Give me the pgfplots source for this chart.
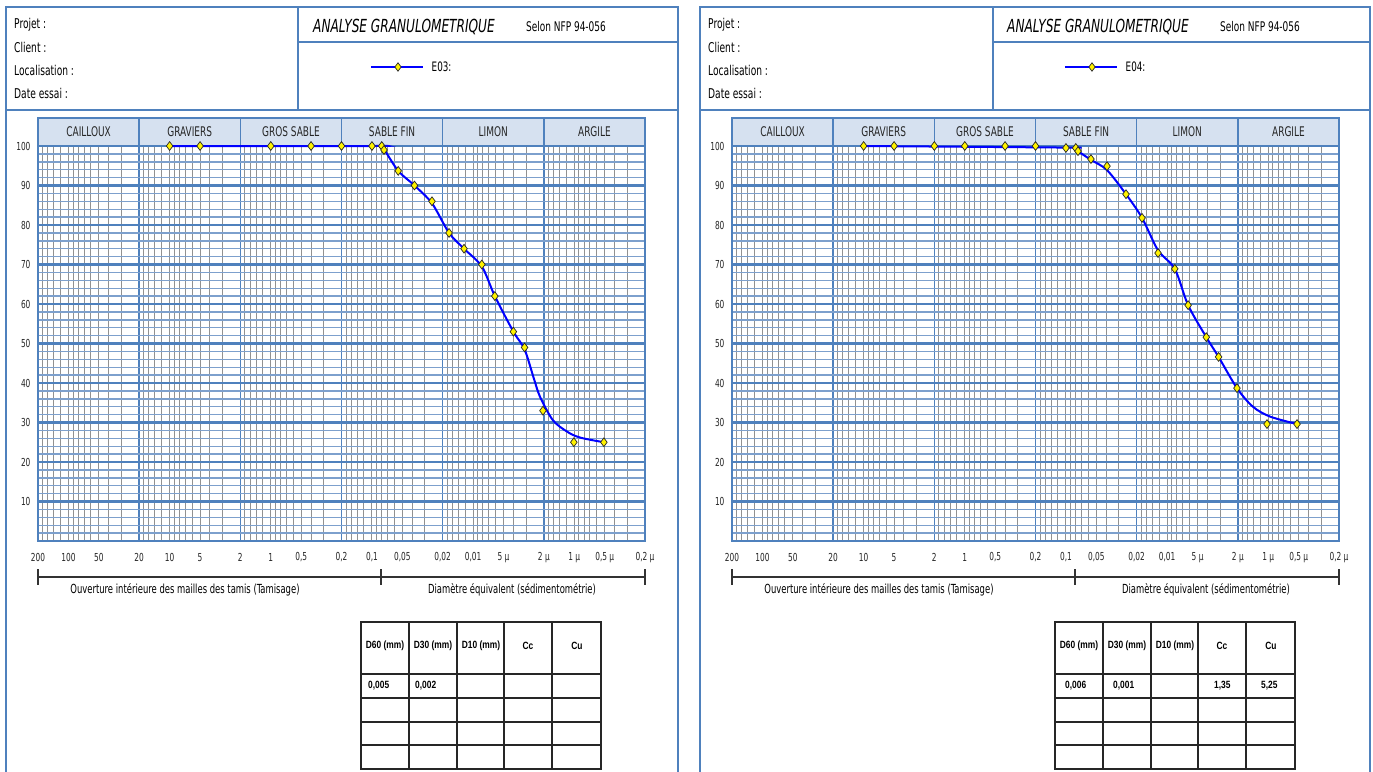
\documentclass[border=0pt]{standalone}
\usepackage{fontspec}
\setmainfont{DejaVu Sans Condensed}[FakeStretch=0.75]
\newfontfamily\tabfont{Liberation Sans}[FakeStretch=0.8]
\usepackage{pgfplots}
\usepackage{pgfplotstable}
\pgfplotsset{compat=1.18}
\definecolor{frameblue}{RGB}{79,129,189}
\definecolor{minorblue}{RGB}{125,160,205}
\definecolor{headfill}{RGB}{214,225,240}
\definecolor{gridgray}{RGB}{145,145,145}
\definecolor{curveblue}{RGB}{0,0,255}

\pgfplotstableread{
x y
10 100
5 100
1 100
0.4 100
0.2 100
0.1 100
0.08 100
0.076 99
0.055 93.7
0.038 90
0.0255 86
0.0173 78
0.0123 74
0.0082 70
0.0061 62
0.0040 53
0.0031 49
0.00204 33
0.00101 25
0.00051 25
}\ethreemarks

\pgfplotstableread{
x y
10 100
0.1 100
0.08 100
0.075 99
0.055 93.7
0.038 90
0.0255 85.5
0.0173 78
0.0123 74
0.0082 69.5
0.0061 62
0.0040 53
0.0031 48.5
0.0025 41
0.00218 36.5
0.00163 30.6
0.00118 27.7
0.00088 26.2
0.00051 25
}\ethreecurve

\pgfplotstableread{
x y
10 100
5 100
2 100
1 100
0.4 100
0.2 100
0.1 99.5
0.08 99.5
0.076 98.7
0.0566 96.7
0.0393 94.9
0.0255 87.8
0.0177 81.8
0.0123 72.9
0.0084 68.9
0.0062 59.7
0.0041 51.6
0.0031 46.6
0.00204 38.7
0.00103 29.6
0.00052 29.6
}\efourmarks

\pgfplotstableread{
x y
10 100
0.1 99.6
0.08 99.5
0.076 98.7
0.0566 96.5
0.0393 93.9
0.0255 87.8
0.0177 81.8
0.0123 73.6
0.0084 68.9
0.0062 59.7
0.0041 51.6
0.0031 46.6
0.00204 38.7
0.00142 34
0.00096 31.5
0.00052 29.6
}\efourcurve

\newcommand\panelcommon{%
  \node[anchor=west, inner sep=0pt, font=\fontsize{13.5}{15}\selectfont] at (14,25) {Projet :};
  \node[anchor=west, inner sep=0pt, font=\fontsize{13.5}{15}\selectfont] at (14,47) {Client :};
  \node[anchor=west, inner sep=0pt, font=\fontsize{13.5}{15}\selectfont] at (14,70) {Localisation :};
  \node[anchor=west, inner sep=0pt, font=\fontsize{13.5}{15}\selectfont] at (14,93) {Date essai :};
  \node[anchor=west, inner sep=0pt, font=\fontsize{18}{20}\selectfont\itshape] at (313,27) {ANALYSE GRANULOMETRIQUE};
  \node[anchor=west, inner sep=0pt, font=\fontsize{13.3}{15}\selectfont] at (526,27) {Selon NFP 94-056};
  \foreach \i/\t in {0/CAILLOUX,1/GRAVIERS,2/GROS SABLE,3/SABLE FIN,4/LIMON,5/ARGILE}{
    \draw[fill=headfill, draw=frameblue, line width=1.5pt] ({38+101.17*\i},118) rectangle ({38+101.17*(\i+1)},146);
    \node[font=\fontsize{13.3}{15}\selectfont, text=black!85] at ({38+101.17*(\i+0.5)},131.5) {\t};
  }
  \draw[black!80, line width=1.2pt] (38,577) -- (645,577);
  \draw[black!80, line width=1.2pt] (38,569) -- (38,585) (381,569) -- (381,585) (645,569) -- (645,585);
  \node[font=\fontsize{12.5}{14}\selectfont] at (185,590) {Ouverture intérieure des mailles des tamis (Tamisage)};
  \node[font=\fontsize{12.5}{14}\selectfont] at (512,590) {Diamètre équivalent (sédimentométrie)};
  \draw[black!85, line width=1.2pt] (361,622) rectangle (601,769);
  \foreach \xx in {409,457,504,552} {\draw[black!85, line width=1.2pt] (\xx,622) -- (\xx,769);}
  \foreach \yy in {674,698,722,745} {\draw[black!85, line width=1.2pt] (361,\yy) -- (601,\yy);}
  \node[font=\tabfont\bfseries\fontsize{10.5}{12}\selectfont] at (385,646) {D60 (mm)};
  \node[font=\tabfont\bfseries\fontsize{10.5}{12}\selectfont] at (433,646) {D30 (mm)};
  \node[font=\tabfont\bfseries\fontsize{10.5}{12}\selectfont] at (481,646) {D10 (mm)};
  \node[font=\tabfont\bfseries\fontsize{10.5}{12}\selectfont] at (528,646) {Cc};
  \node[font=\tabfont\bfseries\fontsize{10.5}{12}\selectfont] at (577,646) {Cu};
}

\begin{document}
\begin{tikzpicture}
\path[use as bounding box] (0pt,0pt) rectangle (1373pt,-771pt);
\fill[white] (0pt,0pt) rectangle (1373pt,-771pt);
\begin{scope}[x=1pt, y=-1pt]
  \draw[frameblue, line width=2pt] (6,800) -- (6,7) -- (678,7) -- (678,800);
  \draw[frameblue, line width=2pt] (298,7) -- (298,110) (298,42) -- (678,42) (6,110) -- (678,110);
  \draw[frameblue, line width=2pt] (700,800) -- (700,7) -- (1370,7) -- (1370,800);
  \draw[frameblue, line width=2pt] (993,7) -- (993,110) (993,42) -- (1370,42) (700,110) -- (1370,110);
  \panelcommon
  \begin{scope}[xshift=694pt]
    \panelcommon
  \end{scope}
  \node[anchor=west, inner sep=0pt, font=\tabfont\bfseries\fontsize{10.5}{12}\selectfont] at (368,686) {0,005};
  \node[anchor=west, inner sep=0pt, font=\tabfont\bfseries\fontsize{10.5}{12}\selectfont] at (415,686) {0,002};
  \node[anchor=west, inner sep=0pt, font=\tabfont\bfseries\fontsize{10.5}{12}\selectfont] at (1065,686) {0,006};
  \node[anchor=west, inner sep=0pt, font=\tabfont\bfseries\fontsize{10.5}{12}\selectfont] at (1113,686) {0,001};
  \node[anchor=west, inner sep=0pt, font=\tabfont\bfseries\fontsize{10.5}{12}\selectfont] at (1214,686) {1,35};
  \node[anchor=west, inner sep=0pt, font=\tabfont\bfseries\fontsize{10.5}{12}\selectfont] at (1261,686) {5,25};
\end{scope}

\begin{axis}[at={(38pt,-541pt)}, anchor=south west,
    scale only axis, width=607pt, height=395pt,
    xmode=log, x dir=reverse, xmin=0.0002, xmax=200,
    ymin=0, ymax=100,
    xtick={200,20,2,0.2,0.02,0.002,0.0002},
    xticklabels={200,20,2,{0,2},{0,02},{2 µ},{0,2 µ}},
    extra x ticks={100,50,10,5,1,0.5,0.1,0.05,0.01,0.005,0.001,0.0005},
    extra x tick labels={100,50,10,5,1,{0,5},{0,1},{0,05},{0,01},{5 µ},{1 µ},{0,5 µ}},
    extra x tick style={grid=none},
    minor xtick={0.0003,0.0004,0.0005,0.0006,0.0007,0.0008,0.0009,0.001,0.0012,0.0014,0.0016,0.0018,0.003,0.004,0.005,0.006,0.007,0.008,0.009,0.01,0.012,0.014,0.016,0.018,0.03,0.04,0.05,0.06,0.07,0.08,0.09,0.1,0.12,0.14,0.16,0.18,0.3,0.4,0.5,0.6,0.7,0.8,0.9,1,1.2,1.4,1.6,1.8,3,4,5,6,7,8,9,10,12,14,16,18,30,40,50,60,70,80,90,100,120,140,160,180},
    ytick={10,20,30,40,50,60,70,80,90,100},
    yticklabels={10,20,30,40,50,60,70,80,90,100},
    minor ytick={2,4,6,8,12,14,16,18,22,24,26,28,32,34,36,38,42,44,46,48,52,54,56,58,62,64,66,68,72,74,76,78,82,84,86,88,92,94,96,98},
    grid=both,
    minor x grid style={gridgray, line width=1pt},
    major x grid style={frameblue, line width=1.6pt},
    minor y grid style={minorblue, line width=1.4pt},
    major y grid style={frameblue, line width=2.4pt},
    major tick length=0pt, minor tick length=0pt,
    axis line style={frameblue, line width=1.6pt},
    tick label style={font=\fontsize{11}{12}\selectfont, text=black!85},
    xticklabel style={anchor=center, yshift=-16.5pt},
    yticklabel style={anchor=east, xshift=-4pt},
    clip=false,
    legend style={draw=none, fill=none, inner sep=0pt, font=\fontsize{13}{15}\selectfont,
                  at={(0.547,1.2)}, anchor=west},
    legend image code/.code={\draw[mark repeat=2,mark phase=2,#1] plot coordinates {(0pt,0pt) (27pt,0pt) (52pt,0pt)};}]
  \addplot[curveblue, line width=2pt, smooth, no marks, forget plot] table {\ethreecurve};
  \addplot[only marks, mark=diamond*, mark size=4.4pt, mark options={fill=yellow, draw=black!85, line width=0.7pt}, forget plot] table {\ethreemarks};
  \addlegendimage{curveblue, line width=1.5pt, mark=diamond*, mark size=4.2pt, mark options={fill=yellow, draw=black!85, line width=0.7pt}}
  \addlegendentry{\hspace{6pt}E03:}
\end{axis}

\begin{axis}[at={(732pt,-541pt)}, anchor=south west,
    scale only axis, width=607pt, height=395pt,
    xmode=log, x dir=reverse, xmin=0.0002, xmax=200,
    ymin=0, ymax=100,
    xtick={200,20,2,0.2,0.02,0.002,0.0002},
    xticklabels={200,20,2,{0,2},{0,02},{2 µ},{0,2 µ}},
    extra x ticks={100,50,10,5,1,0.5,0.1,0.05,0.01,0.005,0.001,0.0005},
    extra x tick labels={100,50,10,5,1,{0,5},{0,1},{0,05},{0,01},{5 µ},{1 µ},{0,5 µ}},
    extra x tick style={grid=none},
    minor xtick={0.0003,0.0004,0.0005,0.0006,0.0007,0.0008,0.0009,0.001,0.0012,0.0014,0.0016,0.0018,0.003,0.004,0.005,0.006,0.007,0.008,0.009,0.01,0.012,0.014,0.016,0.018,0.03,0.04,0.05,0.06,0.07,0.08,0.09,0.1,0.12,0.14,0.16,0.18,0.3,0.4,0.5,0.6,0.7,0.8,0.9,1,1.2,1.4,1.6,1.8,3,4,5,6,7,8,9,10,12,14,16,18,30,40,50,60,70,80,90,100,120,140,160,180},
    ytick={10,20,30,40,50,60,70,80,90,100},
    yticklabels={10,20,30,40,50,60,70,80,90,100},
    minor ytick={2,4,6,8,12,14,16,18,22,24,26,28,32,34,36,38,42,44,46,48,52,54,56,58,62,64,66,68,72,74,76,78,82,84,86,88,92,94,96,98},
    grid=both,
    minor x grid style={gridgray, line width=1pt},
    major x grid style={frameblue, line width=1.6pt},
    minor y grid style={minorblue, line width=1.4pt},
    major y grid style={frameblue, line width=2.4pt},
    major tick length=0pt, minor tick length=0pt,
    axis line style={frameblue, line width=1.6pt},
    tick label style={font=\fontsize{11}{12}\selectfont, text=black!85},
    xticklabel style={anchor=center, yshift=-16.5pt},
    yticklabel style={anchor=east, xshift=-4pt},
    clip=false,
    legend style={draw=none, fill=none, inner sep=0pt, font=\fontsize{13}{15}\selectfont,
                  at={(0.547,1.2)}, anchor=west},
    legend image code/.code={\draw[mark repeat=2,mark phase=2,#1] plot coordinates {(0pt,0pt) (27pt,0pt) (52pt,0pt)};}]
  \addplot[curveblue, line width=2pt, smooth, no marks, forget plot] table {\efourcurve};
  \addplot[only marks, mark=diamond*, mark size=4.4pt, mark options={fill=yellow, draw=black!85, line width=0.7pt}, forget plot] table {\efourmarks};
  \addlegendimage{curveblue, line width=1.5pt, mark=diamond*, mark size=4.2pt, mark options={fill=yellow, draw=black!85, line width=0.7pt}}
  \addlegendentry{\hspace{6pt}E04:}
\end{axis}
\end{tikzpicture}
\end{document}
